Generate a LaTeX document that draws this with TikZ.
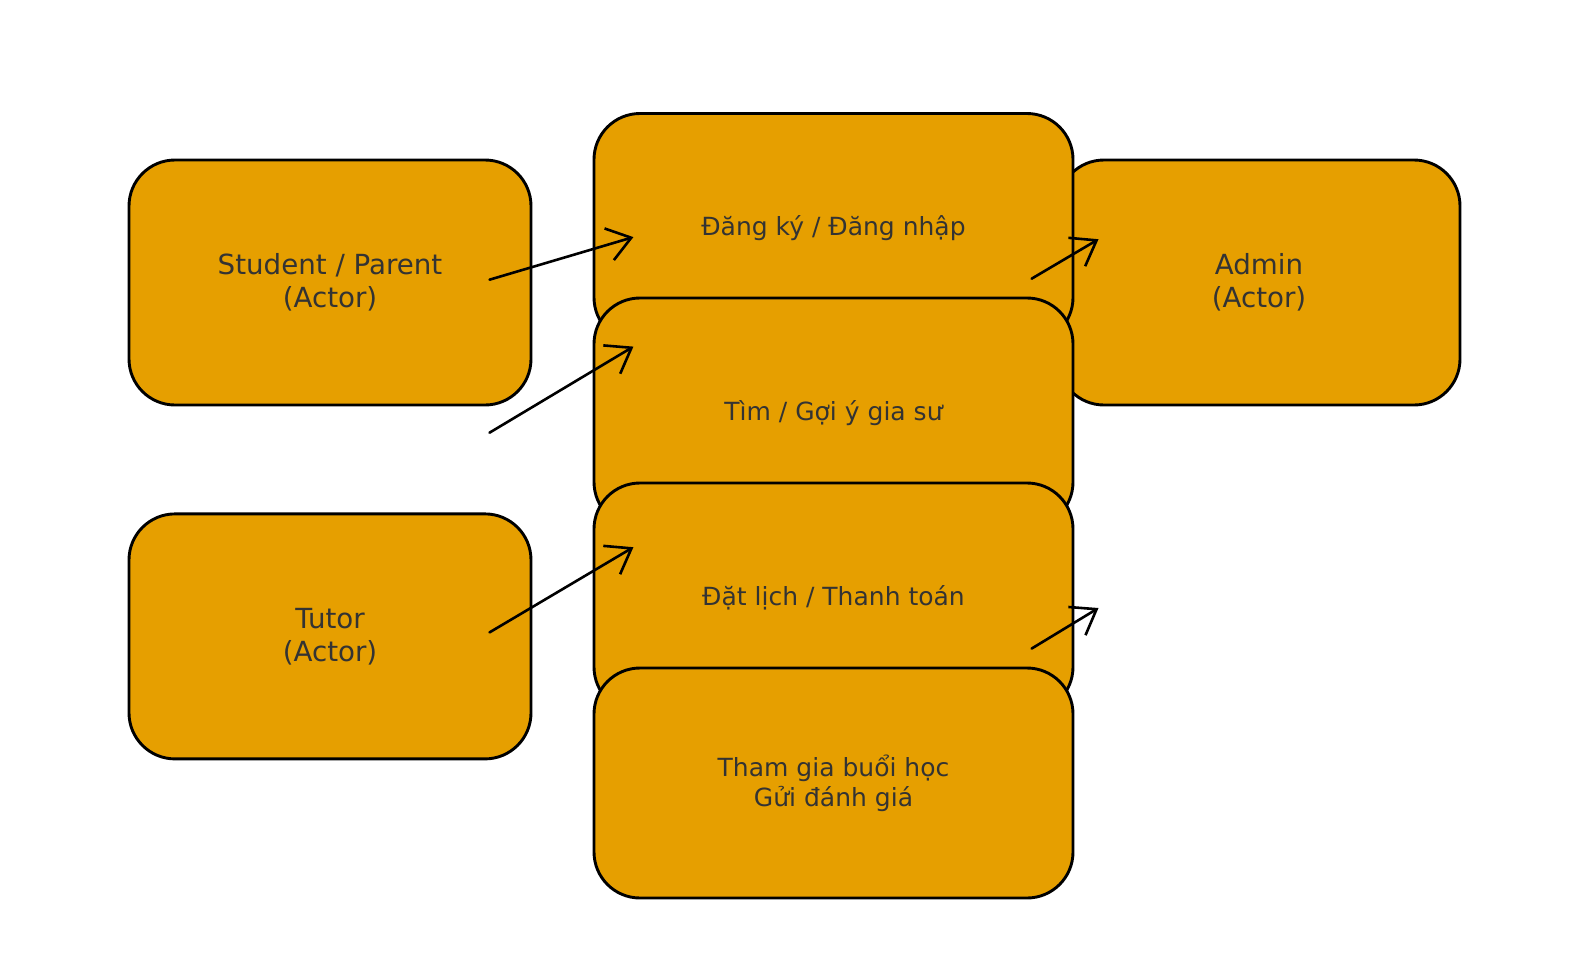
\documentclass[tikz,border=0pt]{standalone}
\usepackage{fontspec}
\setmainfont{DejaVu Sans}
\usetikzlibrary{arrows.meta}
\definecolor{boxfill}{HTML}{E69F00}
\definecolor{txtgray}{HTML}{333333}
\begin{document}
\begin{tikzpicture}[x=1pt,y=-1pt,
  basebox/.style={draw=black, line width=2.9pt, fill=boxfill, rounded corners=46pt,
    inner sep=0pt, align=center, text=txtgray},
  actorbox/.style={basebox, minimum width=402pt, minimum height=245pt,
    font=\fontsize{27.7}{33.2}\selectfont},
  usebox/.style={basebox, minimum width=479pt, minimum height=230pt,
    font=\fontsize{25}{30}\selectfont},
  flow/.style={draw=black, line width=2.6pt, line cap=round,
    -{Straight Barb[length=23pt, width=33pt, line width=2.6pt]}}
]
\useasboundingbox (0,0) rectangle (1589,964);
\fill[white] (0,0) rectangle (1589,964);
% actor boxes (admin lies beneath the use-case column)
\node[actorbox] (admin) at (1259,282.5) {Admin\\(Actor)};
\node[actorbox] (student) at (330,282.5) {Student / Parent\\(Actor)};
\node[actorbox] (tutor) at (330,636.4) {Tutor\\(Actor)};
% use-case boxes, each drawn over the previous one
\node[usebox] (reg) at (833.5,228.5) {Đăng ký / Đăng nhập};
\node[usebox] (find) at (833.5,413) {Tìm / Gợi ý gia sư};
\node[usebox] (book) at (833.5,598) {Đặt lịch / Thanh toán};
\node[usebox] (join) at (833.5,783) {Tham gia buổi học\\Gửi đánh giá};
% arrow end points
\coordinate (s1) at (489.5,279.7);
\coordinate (e1) at (633.4,237.1);
\coordinate (s2) at (489.5,432.7);
\coordinate (e2) at (633.4,346.6);
\coordinate (s3) at (489.5,632.4);
\coordinate (e3) at (633.4,547.2);
\coordinate (s4) at (1031.6,278.7);
\coordinate (e4) at (1098.5,239.2);
\coordinate (s5) at (1031.6,648.6);
\coordinate (e5) at (1098.5,608);
\draw[flow] (s1) -- (e1);
\draw[flow] (s2) -- (e2);
\draw[flow] (s3) -- (e3);
\draw[flow] (s4) -- (e4);
\draw[flow] (s5) -- (e5);
\end{tikzpicture}
\end{document}
